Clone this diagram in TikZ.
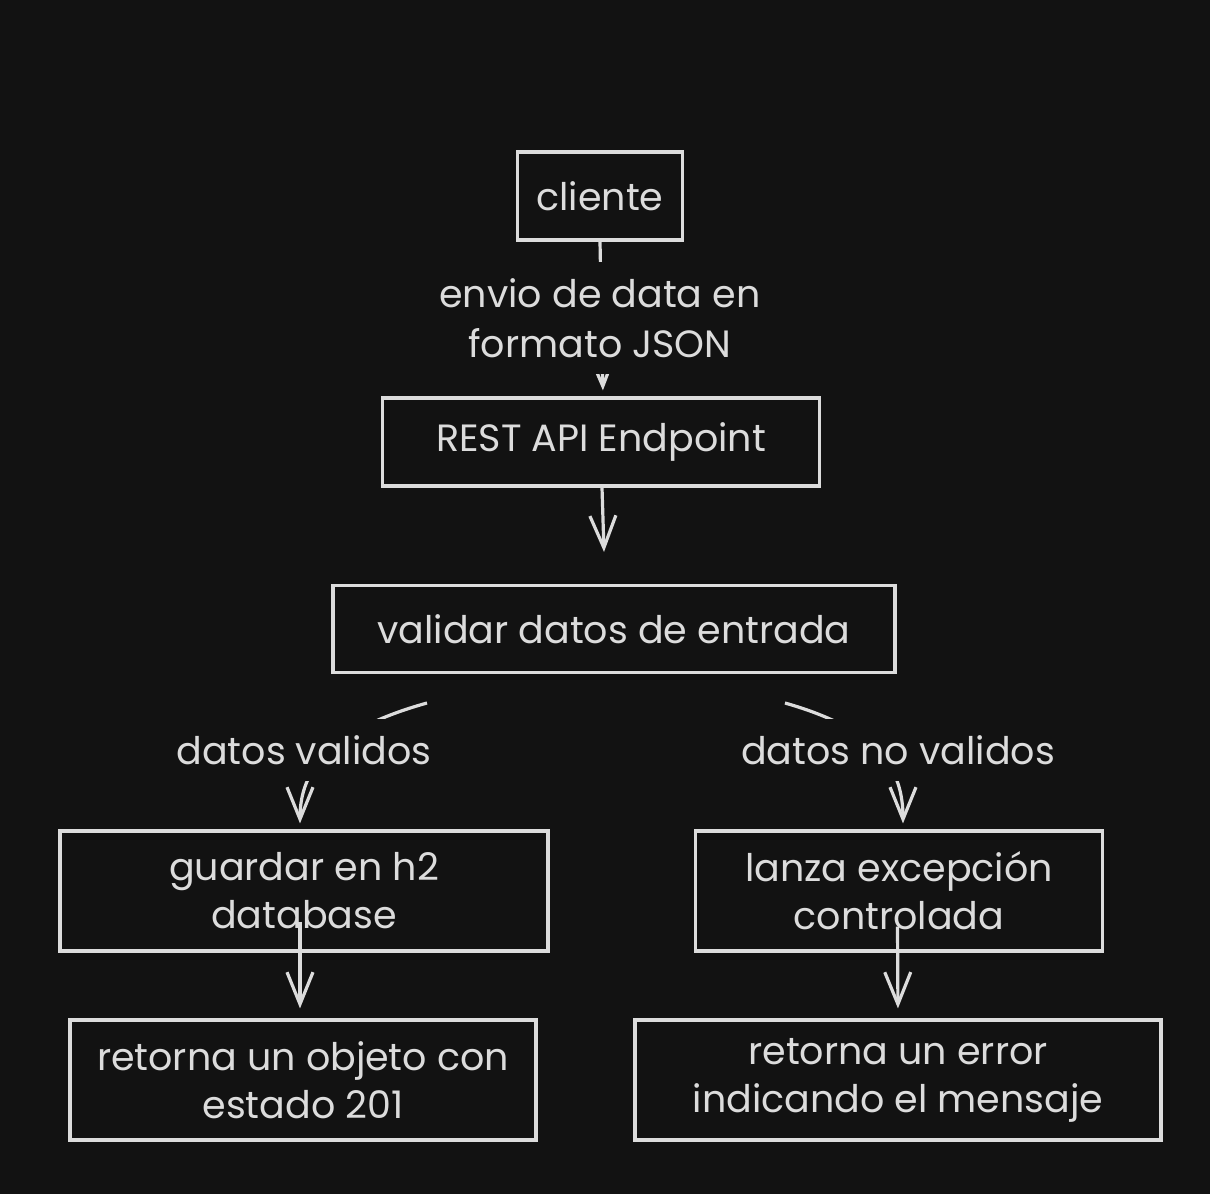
\documentclass[tikz,border=0pt]{standalone}
\usepackage{fontspec}
\setmainfont{Poppins}
\usepackage{tikz}
\usetikzlibrary{calc,arrows.meta}
\definecolor{bg}{HTML}{121212}
\definecolor{ink}{HTML}{DCDCDC}
\tikzstyle{box} = [draw=ink,line width=1.6pt,text=ink,align=center,inner sep=0pt,font=\fontsize{19}{24}\selectfont]
\tikzstyle{lbl} = [fill=bg,text=ink,align=center,inner sep=8pt,font=\fontsize{19}{25}\selectfont]
\tikzstyle{arrow} = [draw=ink,line width=1.6pt,-{Straight Barb[length=16pt,width=13pt]}]

\begin{document}
\begin{tikzpicture}[x=0.5pt,y=-0.5pt]
            \fill[bg] (0,0) rectangle (1210,1194);
            \useasboundingbox (0,0) rectangle (1210,1194);

            % top
            \node[box,minimum width=82.5pt,minimum height=44pt] (cliente) at (600,196) {cliente};
            \node[box,minimum width=218.5pt,minimum height=44pt] (api) at (601,442) {REST API Endpoint};
            \node[box,minimum width=281pt,minimum height=43.5pt] (validar) at (614,629) {validar datos de entrada};

            % left branch
            \node[box,minimum width=244pt,minimum height=60pt] (guardar) at (304,891) {guardar en h2\\database};
            \node[box,minimum width=233pt,minimum height=60pt] (objeto) at (303,1080) {retorna un objeto con\\estado 201};

            % right branch
            \node[box,minimum width=203.5pt,minimum height=60pt] (lanza) at (899,891) {lanza excepción\\controlada};
            \node[box,minimum width=263pt,minimum height=60pt] (error) at (898,1080) {retorna un error\\indicando el mensaje};

            % arrows
            \draw[arrow,shorten >=3pt] (cliente.south) -- ([xshift=1pt]api.north);
            \node[lbl] (envio) at (600,318) {envio de data en\\formato JSON};
            \draw[arrow,shorten >=16pt] ([xshift=0.5pt]api.south) -- ([xshift=-4.5pt]validar.north);

            \coordinate (vl) at (427,703);
            \coordinate (vr) at (785,703);
            \draw[arrow,shorten >=3pt] (vl) .. controls (330,730) and (300,770) .. ([xshift=-2pt]guardar.north);
            \draw[arrow,shorten >=3pt] (vr) .. controls (880,730) and (903,770) .. ([xshift=2pt]lanza.north);
            \node[lbl] (ok) at (304,750) {datos validos};
            \node[lbl] (nok) at (898,750) {datos no validos};

            \draw[arrow,shorten >=5pt] ([xshift=-2pt,yshift=15.5pt]guardar.south) -- ([xshift=-1.5pt]objeto.north);
            \draw[arrow,shorten >=5pt] ([xshift=-0.75pt,yshift=13pt]lanza.south) -- (error.north);
        \end{tikzpicture}
\end{document}
